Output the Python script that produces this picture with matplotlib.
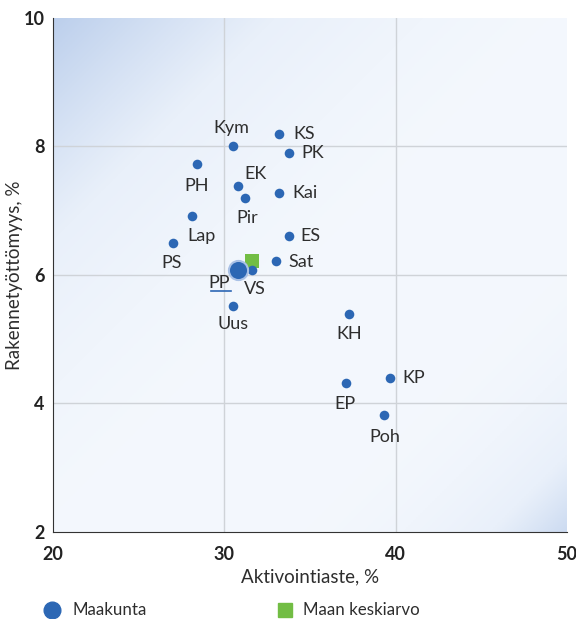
import numpy as np
import matplotlib.pyplot as plt
from matplotlib.lines import Line2D
from matplotlib.colors import LinearSegmentedColormap

# Maakuntien arvot (aktivointiaste %, rakennetyöttömyys %)
lyhenteet = ['Kym', 'KS', 'PK', 'PH', 'EK', 'Pir', 'Kai', 'Lap', 'ES', 'PS',
             'Sat', 'VS', 'Uus', 'KH', 'EP', 'KP', 'Poh']
aktivointi = [30.5, 33.2, 33.8, 28.4, 30.8, 31.2, 33.2, 28.1, 33.8, 27.0,
              33.0, 31.6, 30.5, 37.3, 37.1, 39.7, 39.3]
rakenne = [8.0, 8.2, 7.89, 7.72, 7.39, 7.2, 7.28, 6.92, 6.61, 6.5,
           6.22, 6.08, 5.52, 5.39, 4.31, 4.39, 3.81]

# PP erikseen (iso pallo)
pp_x, pp_y = 30.8, 6.08
# Maan keskiarvo
ka_x, ka_y = 31.6, 6.21

# Tekstien siirrot pikseleinä (dx, dy, ha)
siirrot = {
    'Kym': (-2, 18, 'center'), 'KS': (14, 0, 'left'), 'PK': (12, 0, 'left'),
    'PH': (0, -22, 'center'), 'EK': (18, 12, 'center'), 'Pir': (2, -20, 'center'),
    'Kai': (13, 0, 'left'), 'Lap': (10, -20, 'center'), 'ES': (11, 0, 'left'),
    'PS': (-1, -20, 'center'), 'Sat': (13, -1, 'left'), 'VS': (3, -19, 'center'),
    'Uus': (0, -18, 'center'), 'KH': (0, -20, 'center'), 'EP': (-1, -21, 'center'),
    'KP': (12, 0, 'left'), 'Poh': (1, -22, 'center'),
}

SININEN = '#2c67b4'
VIHREA = '#72bd44'
TEKSTI = '#2e2e2e'

plt.rcParams['font.family'] = ['Lato', 'DejaVu Sans']

fig = plt.figure(figsize=(5.76, 6.19), dpi=100)
ax = fig.add_axes([0.092, 0.141, 0.892, 0.830])

# Taustan liukuväri (vasen yläkulma ja oikea alakulma sinertävät)
n = 300
xx, yy = np.meshgrid(np.linspace(0, 1, n), np.linspace(0, 1, n))
d = (xx + yy) / 2  # 0 = vasen yläkulma, 1 = oikea alakulma
arvo = 0.12 + 0.88 * np.clip(1 - d / 0.5, 0, 1) ** 1.5 + np.clip((d - 0.72) / 0.28, 0, 1) ** 2.0 * 0.7
cmap = LinearSegmentedColormap.from_list('tausta', ['#f7fafe', '#e9f0fa', '#bccfec'])
ax.imshow(np.clip(arvo, 0, 1), cmap=cmap, extent=(20, 50, 2, 10), origin='upper',
          aspect='auto', vmin=0, vmax=1, zorder=0)

ax.set_xlim(20, 50)
ax.set_ylim(2, 10)
ax.set_xticks([20, 30, 40, 50])
ax.set_yticks([2, 4, 6, 8, 10])
for x in [30, 40]:
    ax.axvline(x, color='#cfd3d8', lw=1, zorder=1)
for y in [4, 6, 8]:
    ax.axhline(y, color='#cfd3d8', lw=1, zorder=1)

ax.spines['top'].set_visible(False)
ax.spines['right'].set_visible(False)
ax.spines['left'].set_color('#333333')
ax.spines['bottom'].set_color('#333333')
ax.tick_params(axis='x', length=0, pad=10, labelsize=13, labelcolor='#222222')
ax.tick_params(axis='y', length=0, pad=6, labelsize=13, labelcolor='#222222')
for lab in ax.get_xticklabels() + ax.get_yticklabels():
    lab.set_fontweight('bold')

ax.set_xlabel('Aktivointiaste, %', fontsize=13.5, color=TEKSTI, labelpad=4)
fig.text(15 / 576, 1 - 275 / 619, 'Rakennetyöttömyys, %', rotation=90,
         ha='center', va='center', fontsize=13.5, color=TEKSTI)

ax.scatter(aktivointi, rakenne, s=48, color=SININEN, zorder=3, linewidths=0)
ax.scatter([pp_x], [pp_y], s=190, color=SININEN, edgecolors='#a9c1e6',
           linewidths=1.5, zorder=3)
ax.scatter([ka_x], [ka_y], s=90, marker='s', color=VIHREA, linewidths=0, zorder=2)

for nimi, x, y in zip(lyhenteet, aktivointi, rakenne):
    dx, dy, ha = siirrot[nimi]
    ax.annotate(nimi, (x, y), xytext=(dx, dy), textcoords='offset pixels',
                ha=ha, va='center', fontsize=13, color=TEKSTI, zorder=4)

ax.annotate('PP', (pp_x, pp_y), xytext=(-19, -13), textcoords='offset pixels',
            ha='center', va='center', fontsize=13, color=TEKSTI, zorder=4)
ax.add_artist(Line2D([211 / 576, 231 / 576], [1 - 291 / 619, 1 - 291 / 619],
                     transform=fig.transFigure, color=SININEN, lw=1.2))

# Selite
fig.add_artist(Line2D([52 / 576], [1 - 610 / 619], transform=fig.transFigure,
                      marker='o', markersize=12, color=SININEN, lw=0))
fig.text(72 / 576, 1 - 610 / 619, 'Maakunta', fontsize=12.2, color=TEKSTI, va='center')
fig.add_artist(Line2D([285 / 576], [1 - 610 / 619], transform=fig.transFigure,
                      marker='s', markersize=10.5, color=VIHREA, lw=0))
fig.text(303 / 576, 1 - 610 / 619, 'Maan keskiarvo', fontsize=12.2, color=TEKSTI, va='center')

fig.savefig('out.png', dpi=100)
